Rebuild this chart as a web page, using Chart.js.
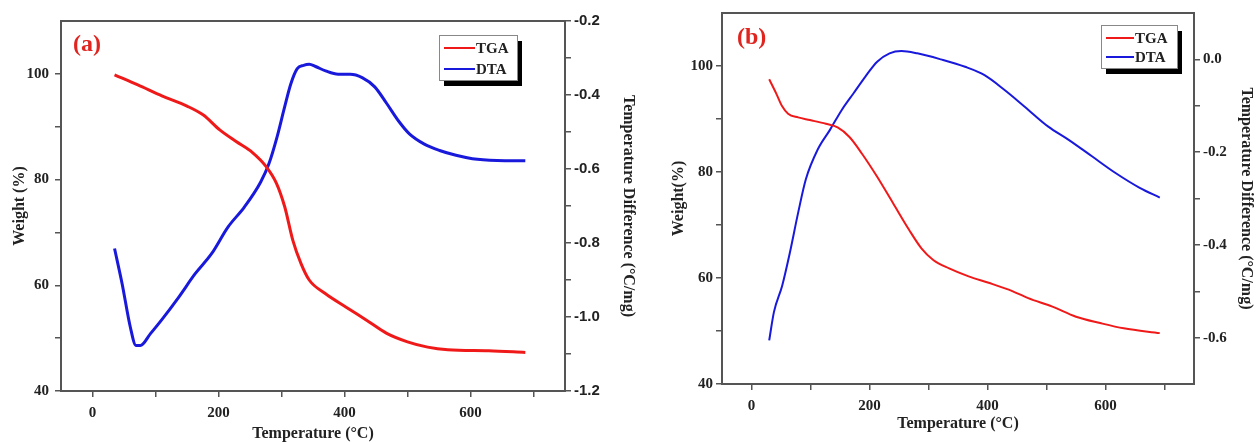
<!DOCTYPE html>
<html>
<head>
<meta charset="utf-8">
<script src="https://cdn.jsdelivr.net/npm/chart.js@4"></script>
<style>
  body { margin: 0; background: #fff; }
  #wrap { position: relative; width: 1258px; height: 443px; overflow: hidden; }
  .panel { position: absolute; top: 0; height: 443px; }
  .tag {
    position: absolute;
    font: bold 24px "Liberation Serif", serif;
    color: #e0241f;
  }
</style>
</head>
<body>
<div id="wrap">
  <div class="panel" style="left:0;width:640px"><canvas id="chartA"></canvas></div>
  <div class="panel" style="left:640px;width:618px"><canvas id="chartB"></canvas></div>
  <div class="tag" style="left:73px;top:30px">(a)</div>
  <div class="tag" style="left:737px;top:23px">(b)</div>
</div>
<script>
// Panel (a) - TGA weight (%) vs temperature
const tgaTempA = [35, 72, 111, 150, 176, 202, 228, 254, 276, 292, 305, 318, 331, 344, 370, 402, 435, 467, 500, 532, 564, 629, 687];
const tgaWeightA = [99.8, 97.9, 95.8, 93.9, 92.2, 89.4, 87.2, 85.1, 82.4, 79.3, 74.9, 68.5, 64.1, 61.0, 58.4, 55.9, 53.4, 50.9, 49.3, 48.3, 47.8, 47.6, 47.3];
// Panel (a) - DTA (°C/mg)
const dtaTempA = [35, 47, 60, 69, 76, 92, 111, 137, 163, 189, 215, 241, 267, 280, 293, 305, 315, 325, 335, 344, 354, 370, 390, 409, 428, 448, 467, 487, 503, 526, 551, 577, 603, 642, 687];
const dtaValueA = [-0.815, -0.91, -1.027, -1.077, -1.077, -1.045, -1.005, -0.946, -0.883, -0.829, -0.757, -0.703, -0.635, -0.586, -0.513, -0.432, -0.369, -0.329, -0.32, -0.317, -0.323, -0.335, -0.344, -0.344, -0.353, -0.378, -0.423, -0.473, -0.505, -0.532, -0.55, -0.563, -0.572, -0.577, -0.578];

// Panel (b)
const tgaTempB = [30, 42, 52, 62, 79, 99, 126, 146, 166, 187, 213, 240, 267, 288, 308, 335, 368, 402, 436, 469, 510, 550, 591, 631, 692];
const tgaWeightB = [97.5, 94.8, 92.4, 91.0, 90.3, 89.8, 89.1, 88.4, 86.6, 83.5, 79.1, 74.1, 69.1, 65.6, 63.4, 61.8, 60.3, 59.1, 57.8, 56.2, 54.6, 52.7, 51.5, 50.5, 49.6];
const dtaTempB = [30, 38, 52, 65, 79, 92, 112, 133, 153, 173, 193, 213, 234, 254, 281, 321, 362, 395, 429, 463, 503, 537, 577, 617, 658, 692];
const dtaValueB = [-0.606, -0.545, -0.488, -0.417, -0.331, -0.259, -0.195, -0.152, -0.109, -0.073, -0.037, -0.005, 0.013, 0.018, 0.013, 0.0, -0.016, -0.034, -0.066, -0.102, -0.145, -0.173, -0.209, -0.245, -0.277, -0.298];

// Axis ticks
const tempTicks = [0, 100, 200, 300, 400, 500, 600, 700];
const weightTicks = [40, 50, 60, 70, 80, 90, 100];
const dtaTicksA = [-1.2, -1.1, -1.0, -0.9, -0.8, -0.7, -0.6, -0.5, -0.4, -0.3, -0.2];
const dtaTicksB = [-0.6, -0.5, -0.4, -0.3, -0.2, -0.1, 0.0];

const red = "rgb(240, 25, 25)";
const blue = "rgb(25, 25, 220)";
const frameColor = "#555";
const serif = "'Liberation Serif', 'Times New Roman', serif";
const sans = "'Liberation Sans', Arial, sans-serif";

function pts(xs, ys) {
  return xs.map((x, i) => ({ x: x, y: ys[i] }));
}

// frame around plot area + legend with drop shadow
const framePlugin = {
  id: "frame",
  afterDraw(chart, args, opts) {
    const ctx = chart.ctx;
    const a = chart.chartArea;
    ctx.save();
    ctx.strokeStyle = frameColor;
    ctx.lineWidth = 2;
    ctx.strokeRect(a.left, a.top, a.right - a.left, a.bottom - a.top);

    const b = opts.box;
    ctx.fillStyle = "#000";
    ctx.fillRect(b.x + 5, b.y + 6, b.w, b.h);
    ctx.fillStyle = "#fff";
    ctx.fillRect(b.x, b.y, b.w, b.h);
    ctx.strokeStyle = "#888";
    ctx.lineWidth = 1;
    ctx.strokeRect(b.x + 0.5, b.y + 0.5, b.w, b.h);
    ctx.font = "bold 15px " + serif;
    ctx.textBaseline = "middle";
    chart.data.datasets.forEach((ds, i) => {
      const y = b.y + b.rowY[i];
      ctx.strokeStyle = ds.borderColor;
      ctx.lineWidth = 2;
      ctx.beginPath();
      ctx.moveTo(b.x + 5, y);
      ctx.lineTo(b.x + b.lineW, y);
      ctx.stroke();
      ctx.fillStyle = "#222";
      ctx.fillText(ds.label, b.x + b.lineW + 1, y + 1);
    });
    ctx.restore();
  },
};

function fixedTicks(list) {
  return (scale) => {
    scale.ticks = list.map((v) => ({ value: v }));
  };
}

function makePanel(id, cfg) {
  return new Chart(document.getElementById(id), {
    type: "line",
    data: {
      datasets: [
        {
          label: "TGA",
          data: pts(cfg.tgaT, cfg.tgaW),
          borderColor: red,
          borderWidth: cfg.lw,
          pointRadius: 0,
          cubicInterpolationMode: "monotone",
          yAxisID: "y",
        },
        {
          label: "DTA",
          data: pts(cfg.dtaT, cfg.dtaV),
          borderColor: blue,
          borderWidth: cfg.lw,
          pointRadius: 0,
          cubicInterpolationMode: "monotone",
          yAxisID: "y1",
        },
      ],
    },
    options: {
      responsive: true,
      maintainAspectRatio: false,
      animation: false,
      layout: { padding: { top: cfg.top, left: 0, right: 0, bottom: 0 } },
      plugins: {
        legend: { display: false },
        tooltip: { enabled: false },
        frame: { box: cfg.box },
      },
      scales: {
        x: {
          type: "linear",
          min: -50,
          max: 750,
          afterBuildTicks: fixedTicks(tempTicks),
          afterFit: (s) => { s.height = cfg.xH; },
          grid: { drawOnChartArea: false, color: frameColor, tickLength: 6, lineWidth: 1.5 },
          border: { display: false },
          ticks: {
            color: "#222",
            padding: 7,
            maxRotation: 0,
            font: { family: serif, size: 15, weight: "bold" },
            callback: (v) => (v % 200 === 0 ? v : ""),
          },
          title: {
            display: true,
            text: "Temperature (°C)",
            color: "#222",
            padding: { top: 2, bottom: cfg.xTitlePad },
            font: { family: serif, size: 16, weight: "bold" },
          },
        },
        y: {
          position: "left",
          min: 40,
          max: 110,
          afterBuildTicks: fixedTicks(weightTicks),
          afterFit: (s) => { s.width = cfg.yW; },
          grid: { drawOnChartArea: false, color: frameColor, tickLength: 6, lineWidth: 1.5 },
          border: { display: false },
          ticks: {
            color: "#222",
            padding: cfg.yTickPad,
            font: { family: serif, size: 15, weight: "bold" },
            callback: (v) => (v % 20 === 0 ? v : ""),
          },
          title: {
            display: true,
            text: cfg.yTitle,
            color: "#222",
            padding: { top: cfg.yTitlePad, bottom: 0 },
            font: { family: serif, size: 16, weight: "bold" },
          },
        },
        y1: {
          position: "right",
          min: cfg.dMin,
          max: cfg.dMax,
          afterBuildTicks: fixedTicks(cfg.dTicks),
          afterFit: (s) => { s.width = cfg.y1W; },
          grid: { drawOnChartArea: false, color: frameColor, tickLength: 6, lineWidth: 1.5 },
          border: { display: false },
          ticks: {
            color: "#222",
            padding: 3,
            font: cfg.dFont,
            callback: (v) => (Math.round(v * 10) % 2 === 0 ? v.toFixed(1) : ""),
          },
          title: {
            display: true,
            text: "Temperature Difference (°C/mg)",
            color: "#222",
            padding: { top: cfg.y1TitlePad, bottom: 0 },
            font: { family: serif, size: 16, weight: "bold" },
          },
        },
      },
    },
    plugins: [framePlugin],
  });
}

makePanel("chartA", {
  tgaT: tgaTempA, tgaW: tgaWeightA, dtaT: dtaTempA, dtaV: dtaValueA,
  lw: 3, top: 21, xH: 52, yW: 61, y1W: 75, xTitlePad: 0, yTickPad: 6,
  yTitle: "Weight (%)", yTitlePad: 10, y1TitlePad: 2,
  dMin: -1.2, dMax: -0.2, dTicks: dtaTicksA,
  dFont: { family: sans, size: 15, weight: "bold" },
  box: { x: 439, y: 35, w: 78, h: 45, rowY: [13, 34], lineW: 36 },
});

makePanel("chartB", {
  tgaT: tgaTempB, tgaW: tgaWeightB, dtaT: dtaTempB, dtaV: dtaValueB,
  lw: 2, top: 13, xH: 59, yW: 82, y1W: 64, xTitlePad: 10, yTickPad: 3,
  yTitle: "Weight(%)", yTitlePad: 29, y1TitlePad: 2,
  dMin: -0.7, dMax: 0.1, dTicks: dtaTicksB,
  dFont: { family: serif, size: 15, weight: "bold" },
  box: { x: 461, y: 25, w: 76, h: 43, rowY: [13, 32], lineW: 33 },
});
</script>
</body>
</html>
